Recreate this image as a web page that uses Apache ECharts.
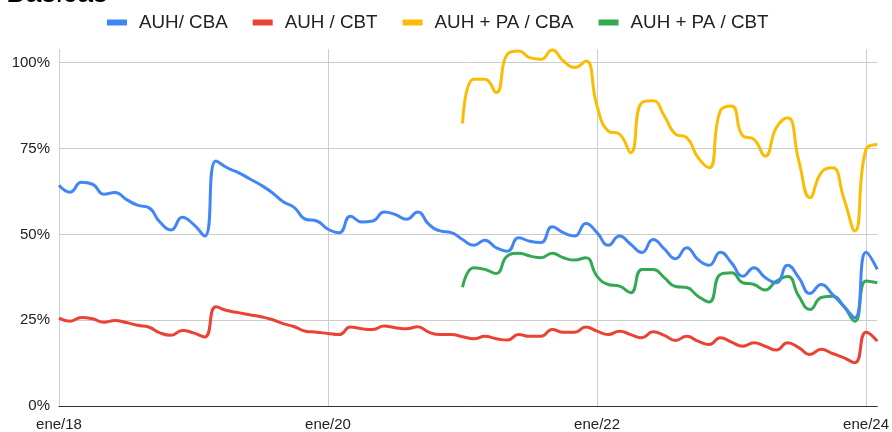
<!DOCTYPE html>
<html>
<head>
<meta charset="utf-8">
<script src="https://cdn.jsdelivr.net/npm/echarts@6/dist/echarts.min.js"></script>
<style>
  html, body { margin: 0; padding: 0; background: #fff; }
  #chart { width: 892px; height: 432px; }
</style>
</head>
<body>
<div id="chart"></div>
<script>
// meses ene/18 .. feb/24
var monthNames = ['ene','feb','mar','abr','may','jun','jul','ago','sep','oct','nov','dic'];
var years = ['18','19','20','21','22','23','24'];
var categories = [];
years.forEach(function(y){
    monthNames.forEach(function(m){
        categories.push(m + '/' + y);
    });
});
categories = categories.slice(0, 74);

var yTicks = [0, 25, 50, 75, 100];

var auhCba = [
    64.3, 62.3, 65.2, 64.6, 61.7, 62.2, 60.2, 58.5, 57.8, 53.6, 51.3, 55.0,
    52.9, 49.5, 71.4, 69.4, 68.0, 66.2, 64.4, 62.2, 59.5, 57.8, 54.4, 53.9,
    51.5, 50.5, 55.3, 53.6, 53.9, 56.5, 55.8, 54.4, 56.5, 52.9, 51.0, 50.5,
    48.5, 46.8, 48.3, 46.1, 45.1, 49.0, 48.0, 47.6, 52.2, 50.5, 49.5, 53.2,
    50.5, 46.8, 49.5, 47.1, 44.7, 48.5, 45.8, 42.9, 46.1, 42.7, 41.0, 44.8,
    41.7, 37.8, 40.3, 37.4, 35.9, 41.0, 37.4, 32.8, 35.4, 32.5, 29.1, 25.7,
    44.8, 39.8
];
var auhCbt = [
    25.6, 24.7, 25.8, 25.4, 24.4, 24.9, 24.3, 23.5, 23.0, 21.3, 20.6, 22.0,
    21.3, 20.1, 28.9, 27.8, 27.2, 26.6, 26.0, 25.2, 24.0, 23.1, 21.8, 21.5,
    21.1, 20.8, 23.0, 22.5, 22.3, 23.3, 22.8, 22.5, 23.1, 21.5, 20.8, 20.8,
    20.2, 19.6, 20.3, 19.6, 19.2, 20.8, 20.3, 20.3, 22.3, 21.5, 21.5, 23.0,
    21.8, 20.8, 21.8, 20.8, 19.9, 21.6, 20.6, 19.1, 20.3, 18.9, 17.9, 19.9,
    18.6, 17.4, 18.4, 17.4, 16.3, 18.4, 17.0, 15.0, 16.5, 15.3, 14.1, 12.6,
    21.5, 18.9
];
var paCba = [
    null, null, null, null, null, null, null, null, null, null, null, null,
    null, null, null, null, null, null, null, null, null, null, null, null,
    null, null, null, null, null, null, null, null, null, null, null, null,
    82.3, 95.2, 95.2, 91.3, 102.5, 103.4, 101.5, 101.0, 103.7, 100.5, 98.6, 100.5,
    87.4, 80.1, 79.2, 73.8, 88.4, 88.9, 84.5, 79.2, 78.2, 72.4, 69.4, 86.0,
    87.4, 78.7, 77.7, 72.8, 81.1, 84.0, 71.4, 60.7, 68.0, 69.4, 60.7, 51.0,
    74.8, 76.2
];
var paCbt = [
    null, null, null, null, null, null, null, null, null, null, null, null,
    null, null, null, null, null, null, null, null, null, null, null, null,
    null, null, null, null, null, null, null, null, null, null, null, null,
    34.6, 40.3, 39.8, 38.6, 43.7, 44.5, 43.7, 43.2, 44.5, 43.2, 42.5, 43.2,
    37.8, 35.4, 34.9, 33.0, 39.8, 39.8, 37.4, 34.8, 34.5, 32.0, 30.3, 38.3,
    38.8, 35.9, 35.4, 33.8, 36.4, 37.7, 32.0, 28.1, 31.6, 32.0, 29.1, 24.7,
    36.4, 35.9
];

var seriesNames = ['AUH/ CBA', 'AUH / CBT', 'AUH + PA / CBA', 'AUH + PA / CBT'];
var seriesData = [auhCba, auhCbt, paCba, paCbt];
var colors = ['#4285F4', '#EA4335', '#FBBC04', '#34A853'];

var font = "'Liberation Sans', Arial, sans-serif";

var myChart = echarts.init(document.getElementById('chart'));
var option = {
    animation: false,
    color: colors,
    title: {
        text: 'Básicas',
        left: 1,
        top: -26,
        textStyle: { fontFamily: font, fontSize: 29, fontWeight: 'normal', color: '#000' }
    },
    legend: {
        top: 8,
        left: 102,
        itemWidth: 20,
        itemHeight: 6,
        itemGap: 25,
        icon: 'rect',
        data: seriesNames,
        textStyle: { fontFamily: font, fontSize: 18.8, color: '#222', padding: [0, 0, 0, 7] }
    },
    grid: { left: 59, right: 12, top: 49, bottom: 26, containLabel: false },
    xAxis: {
        type: 'category',
        boundaryGap: false,
        data: categories,
        axisLine: { lineStyle: { color: '#333', width: 1 } },
        axisTick: { show: false },
        axisLabel: {
            interval: function(i){ return i % 24 === 0; },
            fontFamily: font, fontSize: 15, color: '#222', margin: 11
        },
        splitLine: {
            show: true,
            interval: function(i){ return i % 24 === 0; },
            lineStyle: { color: '#ccc', width: 1 }
        }
    },
    yAxis: {
        type: 'value',
        min: 0,
        max: 104,
        interval: 25,
        axisLine: { show: false },
        axisTick: { show: false },
        axisLabel: {
            showMaxLabel: false,
            formatter: function(v){ return yTicks.indexOf(v) >= 0 ? v + '%' : ''; },
            fontFamily: font, fontSize: 15, color: '#222', margin: 9
        },
        splitLine: { showMaxLine: false, showMinLine: false, lineStyle: { color: '#ccc', width: 1 } }
    },
    series: []
};

seriesNames.forEach(function(name, i){
    option.series.push({
        name: name,
        type: 'line',
        data: seriesData[i],
        smooth: 0.5,
        smoothConstraint: false,
        showSymbol: false,
        symbol: 'none',
        lineStyle: { width: 3 },
        z: 2 + (3 - i)
    });
});

myChart.setOption(option);
</script>
</body>
</html>
